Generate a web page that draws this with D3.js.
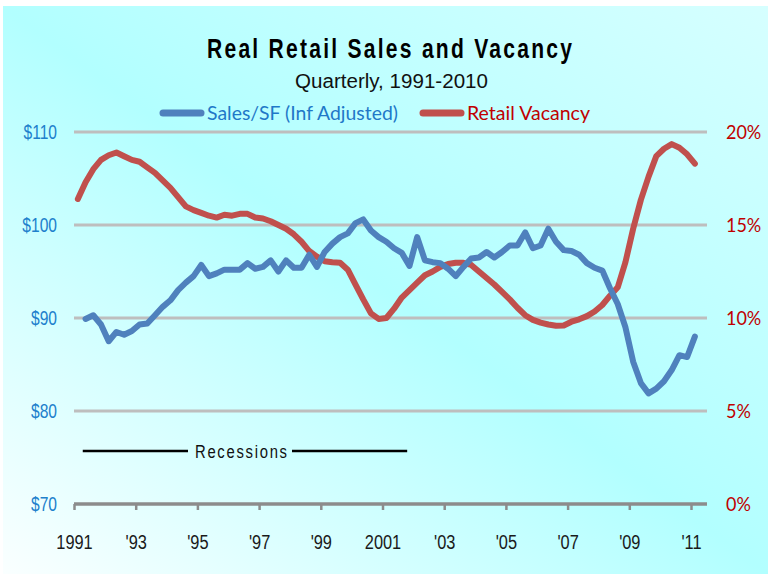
<!DOCTYPE html>
<html>
<head>
<meta charset="utf-8">
<script src="https://cdn.jsdelivr.net/npm/d3@7"></script>
<style>
  html, body { margin: 0; padding: 0; background: #fff; }
  svg { display: block; }
  .narrow { font-family: "Liberation Sans", Arial, sans-serif; }
  .calib { font-family: Lato, "Open Sans", sans-serif; }
</style>
</head>
<body>
<div id="chart"></div>
<script>
// chart data
const salesStart = [1991, 2]; // first quarter of sales series
const vacancyStart = [1991, 1];
const salesPerSF = [
  89.9, 90.3, 89.3, 87.5, 88.5, 88.2, 88.6, 89.3, 89.4, 90.3,
  91.2, 91.9, 93.0, 93.8, 94.5, 95.7, 94.5, 94.8, 95.2, 95.2,
  95.2, 95.9, 95.3, 95.5, 96.2, 95.0, 96.2, 95.4, 95.4, 96.8,
  95.5, 97.1, 98.0, 98.7, 99.1, 100.2, 100.6, 99.4, 98.7, 98.2,
  97.5, 97.0, 95.6, 98.7, 96.2, 96.0, 95.9, 95.3, 94.5, 95.5,
  96.4, 96.5, 97.1, 96.5, 97.1, 97.8, 97.8, 99.2, 97.5, 97.8,
  99.6, 98.2, 97.3, 97.2, 96.8, 95.9, 95.4, 95.1, 93.2, 91.5,
  89.0, 85.3, 83.0, 81.9, 82.4, 83.2, 84.4, 86.0, 85.8, 88.0
];
const retailVacancy = [
  16.4, 17.3, 18.0, 18.5, 18.75, 18.9, 18.7, 18.5, 18.4, 18.1,
  17.8, 17.4, 17.0, 16.5, 16.0, 15.8, 15.65, 15.5, 15.4, 15.55,
  15.5, 15.6, 15.6, 15.4, 15.35, 15.2, 15.0, 14.8, 14.5, 14.1,
  13.6, 13.3, 13.05, 13.0, 12.97, 12.6, 11.8, 11.0, 10.25, 9.95,
  10.0, 10.5, 11.1, 11.5, 11.9, 12.3, 12.5, 12.75, 12.9, 12.97,
  12.97, 12.85, 12.5, 12.15, 11.8, 11.4, 11.0, 10.55, 10.15, 9.9,
  9.75, 9.65, 9.58, 9.6, 9.8, 9.93, 10.1, 10.35, 10.7, 11.2,
  11.65, 13.0, 14.8, 16.35, 17.6, 18.7, 19.1, 19.35, 19.15, 18.8,
  18.3
];
const xTicks = [1991, 1993, 1995, 1997, 1999, 2001, 2003, 2005, 2007, 2009, 2011];
const xTickLabels = ['1991', "'93", "'95", "'97", "'99", '2001', "'03", "'05", "'07", "'09", "'11"];
const salesTicks = [70, 80, 90, 100, 110];
const vacancyTicks = [0, 5, 10, 15, 20];
const recession = [1991.3, 2001.8];

const width = 768;
const height = 574;
const blue = '#4F81BD';
const red = '#C0504D';
const squeeze = 0.78; // narrow-font look

const svg = d3.select('#chart').append('svg')
  .attr('width', width)
  .attr('height', height);

// background gradient
const defs = svg.append('defs');
const grad = defs.append('linearGradient')
  .attr('id', 'bg')
  .attr('x1', '0').attr('y1', '1')
  .attr('x2', '1').attr('y2', '0');
grad.append('stop').attr('offset', '0').attr('stop-color', '#FAFFFF');
grad.append('stop').attr('offset', '0.5').attr('stop-color', '#B2FFFF');
grad.append('stop').attr('offset', '1').attr('stop-color', '#D6FFFF');

svg.append('rect')
  .attr('x', 3).attr('y', 6)
  .attr('width', width - 3).attr('height', height - 6)
  .attr('fill', 'url(#bg)');

const x = d3.scaleLinear().domain([1991, 2011]).range([74, 691]);
const ySales = d3.scaleLinear().domain([70, 110]).range([504, 132]);
const yVac = d3.scaleLinear().domain([0, 20]).range([504, 132]);

const quarterTime = (start, i) => start[0] + (start[1] - 1 + i) / 4 + 0.125;

// gridlines
svg.append('g')
  .selectAll('line')
  .data(salesTicks.slice(1))
  .join('line')
  .attr('x1', 74).attr('x2', 707)
  .attr('y1', d => ySales(d)).attr('y2', d => ySales(d))
  .attr('stroke', '#BEBEBE')
  .attr('stroke-width', 3);

// x axis
const xAxis = svg.append('g')
  .attr('transform', `translate(0,${ySales(70)})`)
  .call(d3.axisBottom(x).tickValues(xTicks).tickFormat((d, i) => xTickLabels[i]).tickSize(6).tickPadding(24));
xAxis.select('.domain').remove();
xAxis.insert('line', ':first-child')
  .attr('x1', 74).attr('x2', 707)
  .attr('stroke', '#8C8C8C').attr('stroke-width', 3.5);
xAxis.selectAll('.tick line').attr('stroke', '#8C8C8C').attr('stroke-width', 2.5);
xAxis.selectAll('.tick text')
  .attr('class', 'narrow')
  .attr('font-size', 21)
  .attr('transform', `scale(${squeeze},1)`)
  .attr('fill', '#1a1a1a');

// left axis
const yAxisL = svg.append('g')
  .attr('transform', 'translate(57,0)')
  .call(d3.axisLeft(ySales).tickValues(salesTicks).tickFormat(d => '$' + d).tickSize(0).tickPadding(0));
yAxisL.select('.domain').remove();
yAxisL.selectAll('.tick text')
  .attr('class', 'narrow')
  .attr('font-size', 20)
  .attr('transform', `scale(${squeeze},1)`)
  .attr('fill', '#2080CC');

// right axis
const yAxisR = svg.append('g')
  .attr('transform', 'translate(726,0)')
  .call(d3.axisRight(yVac).tickValues(vacancyTicks).tickFormat(d => d + '%').tickSize(0).tickPadding(0));
yAxisR.select('.domain').remove();
yAxisR.selectAll('.tick text')
  .attr('class', 'calib')
  .attr('font-size', 20)
  .attr('transform', 'scale(0.9,1)')
  .attr('fill', '#C00000');

// series lines
const salesLine = d3.line()
  .x((d, i) => x(quarterTime(salesStart, i)))
  .y(d => ySales(d));
const vacLine = d3.line()
  .x((d, i) => x(quarterTime(vacancyStart, i)))
  .y(d => yVac(d));

svg.append('path')
  .datum(retailVacancy)
  .attr('d', vacLine)
  .attr('fill', 'none')
  .attr('stroke', red)
  .attr('stroke-width', 6)
  .attr('stroke-linejoin', 'round')
  .attr('stroke-linecap', 'round');

svg.append('path')
  .datum(salesPerSF)
  .attr('d', salesLine)
  .attr('fill', 'none')
  .attr('stroke', blue)
  .attr('stroke-width', 6)
  .attr('stroke-linejoin', 'round')
  .attr('stroke-linecap', 'round');

// recessions marker
const recY = 451;
svg.append('line')
  .attr('x1', x(recession[0]) - 0.5).attr('x2', 188)
  .attr('y1', recY).attr('y2', recY)
  .attr('stroke', '#000').attr('stroke-width', 2.5);
svg.append('line')
  .attr('x1', 292).attr('x2', x(recession[1]))
  .attr('y1', recY).attr('y2', recY)
  .attr('stroke', '#000').attr('stroke-width', 2.5);
svg.append('text')
  .attr('class', 'narrow')
  .attr('x', 241 / squeeze).attr('y', recY)
  .attr('dy', '0.35em')
  .attr('text-anchor', 'middle')
  .attr('font-size', 19)
  .attr('transform', `scale(${squeeze},1)`)
  .attr('textLength', 92 / squeeze)
  .attr('lengthAdjust', 'spacing')
  .attr('fill', '#111')
  .text('Recessions');

// title
svg.append('text')
  .attr('class', 'narrow')
  .attr('x', 207 / squeeze).attr('y', 58)
  .attr('font-size', 27)
  .attr('font-weight', 'bold')
  .attr('transform', `scale(${squeeze},1)`)
  .attr('textLength', 365 / squeeze)
  .attr('lengthAdjust', 'spacing')
  .attr('fill', '#000')
  .text('Real Retail Sales and Vacancy');

svg.append('text')
  .attr('class', 'narrow')
  .attr('x', 295 / squeeze).attr('y', 88)
  .attr('font-size', 21)
  .attr('transform', `scale(${squeeze},1)`)
  .attr('textLength', 193 / squeeze)
  .attr('lengthAdjust', 'spacingAndGlyphs')
  .attr('fill', '#111')
  .text('Quarterly, 1991-2010');

// legend
const legend = [
  { label: 'Sales/SF (Inf Adjusted)', color: blue, text: '#1F78C8', x: 160, w: 191 },
  { label: 'Retail Vacancy', color: red, text: '#C00000', x: 420, w: 123 }
];
const lg = svg.append('g').selectAll('g').data(legend).join('g');
lg.append('line')
  .attr('x1', d => d.x + 3).attr('x2', d => d.x + 41)
  .attr('y1', 113).attr('y2', 113)
  .attr('stroke', d => d.color)
  .attr('stroke-width', 7)
  .attr('stroke-linecap', 'round');
lg.append('text')
  .attr('class', 'calib')
  .attr('x', d => d.x + 47).attr('y', 113)
  .attr('dy', '0.35em')
  .attr('font-size', 20)
  .attr('textLength', d => d.w)
  .attr('lengthAdjust', 'spacingAndGlyphs')
  .attr('fill', d => d.text)
  .text(d => d.label);
</script>
</body>
</html>
